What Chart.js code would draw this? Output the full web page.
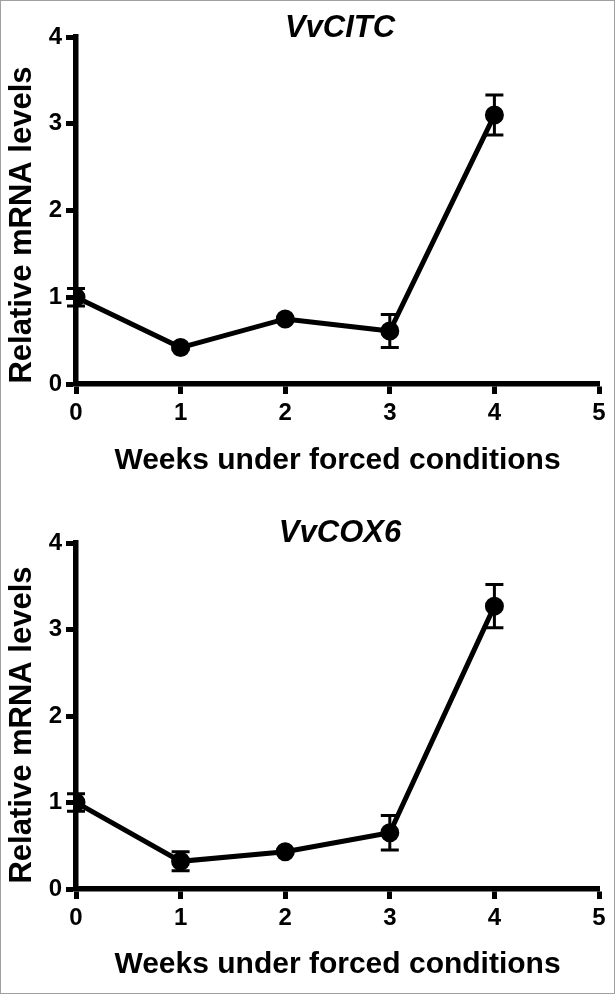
<!DOCTYPE html>
<html>
<head>
<meta charset="utf-8">
<script src="https://cdn.jsdelivr.net/npm/chart.js@4"></script>
<style>
    body { margin: 0; background: #fff; }
    .frame {
        width: 615px;
        height: 994px;
        box-sizing: border-box;
        border: 1px solid #a0a0a0;
        overflow: hidden;
    }
    .panel { width: 613px; height: 496px; position: relative; }
</style>
</head>
<body>
<div class="frame">
    <div class="panel"><canvas id="citcChart"></canvas></div>
    <div class="panel"><canvas id="cox6Chart"></canvas></div>
</div>
<script>
const WEEKS = [0, 1, 2, 3, 4];
const X_TICKS = [0, 1, 2, 3, 4, 5];
const Y_TICKS = [0, 1, 2, 3, 4];

const CITC_MEAN = [1.0, 0.42, 0.75, 0.61, 3.10];
const CITC_ERR  = [0.10, 0.02, 0.02, 0.19, 0.23];

const COX6_MEAN = [1.0, 0.32, 0.43, 0.65, 3.27];
const COX6_ERR  = [0.10, 0.11, 0.02, 0.20, 0.25];

const FONT = "'Liberation Sans', Arial, sans-serif";

// vertical error bars with caps, drawn under the points
const errorBars = {
    id: "errorBars",
    beforeDatasetsDraw(chart, args, opts) {
        const { ctx, scales: { x, y } } = chart;
        ctx.save();
        ctx.strokeStyle = "#000";
        ctx.lineWidth = 3;
        opts.mean.forEach((m, i) => {
            const px = x.getPixelForValue(WEEKS[i]);
            const hi = y.getPixelForValue(m + opts.err[i]);
            const lo = y.getPixelForValue(m - opts.err[i]);
            ctx.beginPath();
            ctx.moveTo(px, hi); ctx.lineTo(px, lo);
            ctx.moveTo(px - 9, hi); ctx.lineTo(px + 9, hi);
            ctx.moveTo(px - 9, lo); ctx.lineTo(px + 9, lo);
            ctx.stroke();
        });
        ctx.restore();
    }
};

// gene name above the plot and the rotated y axis title
const labels = {
    id: "labels",
    afterDraw(chart, args, opts) {
        const ctx = chart.ctx;
        ctx.save();
        ctx.fillStyle = "#000";
        ctx.textAlign = "center";
        ctx.textBaseline = "middle";
        ctx.font = `italic bold 31px ${FONT}`;
        ctx.fillText(opts.gene, 339, opts.geneY);
        ctx.translate(21, opts.yTitleY);
        ctx.rotate(-Math.PI / 2);
        ctx.font = `bold 31px ${FONT}`;
        ctx.fillText("Relative mRNA levels", 0, 0);
        ctx.restore();
    }
};

function makeChart(id, name, mean, err, g) {
    return new Chart(document.getElementById(id), {
        type: "line",
        data: {
            datasets: [{
                label: name,
                data: WEEKS.map((w, i) => ({ x: w, y: mean[i] })),
                borderColor: "#000",
                backgroundColor: "#000",
                borderWidth: 5,
                pointRadius: 7,
                pointBackgroundColor: "#000",
                tension: 0
            }]
        },
        options: {
            responsive: true,
            maintainAspectRatio: false,
            animation: false,
            layout: { padding: { top: g.top, right: 15, left: 0, bottom: 0 } },
            plugins: {
                legend: { display: false },
                tooltip: { enabled: false },
                errorBars: { mean, err },
                labels: { gene: name, geneY: g.geneY, yTitleY: g.yTitleY }
            },
            scales: {
                x: {
                    type: "linear",
                    min: 0, max: 5,
                    afterBuildTicks: s => { s.ticks = X_TICKS.map(v => ({ value: v })); },
                    afterFit: s => { s.height = g.xHeight; },
                    ticks: {
                        color: "#000",
                        font: { family: FONT, size: 24, weight: "bold" },
                        padding: 5,
                        maxRotation: 0
                    },
                    grid: { drawOnChartArea: false, color: "#000", tickLength: 10, tickWidth: 5 },
                    border: { color: "#000", width: 5.5 },
                    title: {
                        display: true,
                        text: "Weeks under forced conditions",
                        color: "#000",
                        font: { family: FONT, size: 30, weight: "bold" },
                        padding: { top: 0, bottom: g.xTitlePad }
                    }
                },
                y: {
                    min: 0, max: 4,
                    afterBuildTicks: s => { s.ticks = Y_TICKS.map(v => ({ value: v })); },
                    afterFit: s => { s.width = 75; },
                    ticks: {
                        color: "#000",
                        font: { family: FONT, size: 24, weight: "bold" },
                        padding: 4
                    },
                    grid: { drawOnChartArea: false, color: "#000", tickLength: 10, tickWidth: 5 },
                    border: { color: "#000", width: 5.5 }
                }
            }
        },
        plugins: [errorBars, labels]
    });
}

makeChart("citcChart", "VvCITC", CITC_MEAN, CITC_ERR,
    { top: 36, geneY: 27, yTitleY: 224, xHeight: 113, xTitlePad: 18 });
makeChart("cox6Chart", "VvCOX6", COX6_MEAN, COX6_ERR,
    { top: 46, geneY: 36, yTitleY: 228, xHeight: 104, xTitlePad: 10 });
</script>
</body>
</html>
